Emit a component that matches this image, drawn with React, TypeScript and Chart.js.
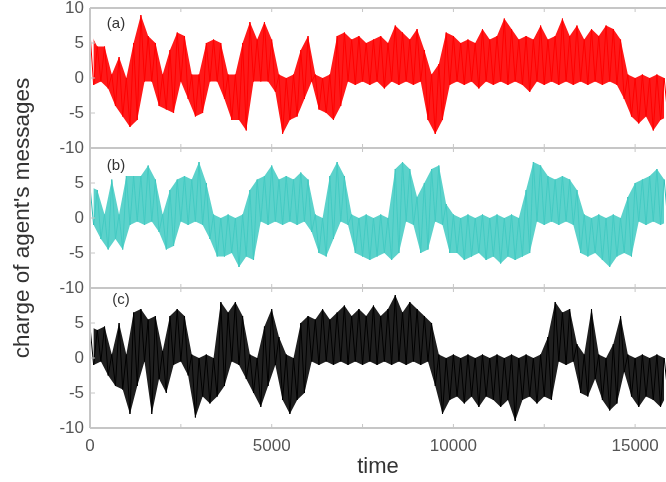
import React, { useEffect, useRef } from "react";
import { Chart, registerables } from "chart.js";

Chart.register(...registerables);

// bin start times (each bin spans 200 time units)
const binTimes = [
  0, 200, 400, 600, 800, 1000, 1200, 1400, 1600, 1800,
  2000, 2200, 2400, 2600, 2800, 3000, 3200, 3400, 3600, 3800,
  4000, 4200, 4400, 4600, 4800, 5000, 5200, 5400, 5600, 5800,
  6000, 6200, 6400, 6600, 6800, 7000, 7200, 7400, 7600, 7800,
  8000, 8200, 8400, 8600, 8800, 9000, 9200, 9400, 9600, 9800,
  10000, 10200, 10400, 10600, 10800, 11000, 11200, 11400, 11600, 11800,
  12000, 12200, 12400, 12600, 12800, 13000, 13200, 13400, 13600, 13800,
  14000, 14200, 14400, 14600, 14800, 15000, 15200, 15400, 15600, 15800,
];

// panel (a): max / min charge in each bin
const aHi = [
  6.5, 4.5, 4.5, 0.5, 3, 0, 5, 9, 6, 5,
  0.5, 4, 6.5, 6, 0.5, 0.5, 5, 5.5, 5, 0.5,
  0.5, 5, 8, 5.5, 8, 5.5, 0.5, 0, 0.5, 4,
  6, 0.5, 0, 0.5, 6, 6.5, 5.5, 6, 5, 5.5,
  6, 5, 7.5, 6.5, 5.5, 7, 4, 0.5, 2, 6.5,
  6, 5, 5.5, 5, 7, 5.5, 6, 8.5, 7, 5.5,
  6, 5.5, 7.5, 5.5, 6, 8.5, 6, 7.5, 5.5, 7,
  6, 7.5, 7, 5.5, 0.5, 0, 0.5, 0, 0.5, 0,
];
const aLo = [
  -1, -0.5, -1.5, -4, -5.5, -7, -6, -0.5, -0.5, -4,
  -4.5, -5, -0.5, -3, -5.5, -5, -0.5, -0.5, -3, -6,
  -6, -7.5, -0.5, -0.5, -0.5, -2, -8, -6, -5.5, -3,
  -0.5, -4.5, -5, -6, -4, -0.5, -1, -0.5, -1, -0.5,
  -1.5, -0.5, -1, -0.5, -1, -0.5, -6, -8, -6, -1,
  -0.5, -1, -0.5, -1.5, -0.5, -1, -0.5, -1, -0.5, -1,
  -2, -0.5, -1, -0.5, -1, -0.5, -1, -0.5, -1, -0.5,
  -1, -0.5, -1, -3, -5.5, -6.5, -5.5, -7.5, -6, -5.5,
];

// panel (b)
const bHi = [
  4.5, 4, 0.5, 5.5, 0.5, 6, 6, 6, 7.5, 5.5,
  0.5, 4, 5.5, 6, 5.5, 8, 5, 0.5, 0, 0.5,
  0, 0.5, 4, 5.5, 6, 7.5, 5.5, 6, 5.5, 6.5,
  5.5, 0.5, 0, 6, 8, 6, 0.5, 0, 0.5, 0,
  0.5, 0, 7, 8, 7, 3, 5, 7, 7.5, 2,
  0.5, 0, 0.5, 0, 0.5, 0, 0.5, 0, 0.5, 0,
  4, 8, 7.5, 6, 5.5, 6, 5.5, 4, 0.5, 0,
  0.5, 0, 0.5, 0, 3, 5, 5.5, 6, 7, 5.5,
];
const bLo = [
  -1, -3, -4.5, -3, -4.5, -1, -0.5, -1, -0.5, -2,
  -4.5, -4, -0.5, -1, -0.5, -1, -3, -5.5, -5.5, -5,
  -7, -5.5, -6, -0.5, -1, -0.5, -1, -0.5, -1, -0.5,
  -2, -5, -5.5, -3, -0.5, -1, -5, -5.5, -6, -5.5,
  -5, -6, -5, -0.5, -1, -5, -4.5, -0.5, -1, -5,
  -5, -6, -5.5, -5, -6, -5.5, -6.5, -5.5, -6, -5.5,
  -5, -0.5, -1, -0.5, -1, -0.5, -1, -5, -5.5, -5,
  -6, -7, -5.5, -5, -5.5, -0.5, -1, -0.5, -1, -0.5,
];

// panel (c)
const cHi = [
  4.5, 4, 4.5, 0.5, 5, 0.5, 6.5, 7, 5.5, 6,
  1, 6, 7, 6, 0.5, 0, 0.5, 0, 8, 6.5,
  8, 6, 0.5, 0, 4.5, 7, 3, 0.5, 0, 5,
  6, 5.5, 7, 5.5, 6.5, 7.5, 6, 7, 6, 7.5,
  6, 7, 9, 6.5, 8, 7, 6, 5, 0.5, 0,
  0.5, 0, 0.5, 0, 0.5, 0, 0.5, 0, 0.5, 0,
  0.5, 0, 0.5, 3, 8, 6.5, 7, 2, 0.5, 7,
  0.5, 0, 2, 6, 0.5, 0, 0.5, 0, 0.5, 0,
];
const cLo = [
  -1, -0.5, -2.5, -4, -4.5, -8, -4, -0.5, -8, -3,
  -5, -1, -0.5, -2.5, -8.5, -5.5, -6.5, -5.5, -4, -0.5,
  -1, -3, -5, -7, -4, -1, -6, -8, -6, -5,
  -0.5, -1, -0.5, -1, -0.5, -1, -0.5, -1, -0.5, -1,
  -0.5, -1, -0.5, -1, -0.5, -1, -0.5, -4, -8, -6,
  -5.5, -6.5, -5.5, -7, -5.5, -6, -7, -6, -9, -6,
  -5.5, -6.5, -5.5, -6, -0.5, -1, -0.5, -5, -5.5, -3,
  -6, -7.5, -6.5, -2, -5.5, -7, -5.5, -6, -7, -5,
];

const xTickValues = [0, 5000, 10000, 15000];
const xMinorTicks = [0, 2500, 5000, 7500, 10000, 12500, 15000];
const yTickValues = [-10, -5, 0, 5, 10];
const panelLabels = ["(a)", "(b)", "(c)"];

const FONT = "'Liberation Sans', Arial, Helvetica, sans-serif";
const HALF_BIN = 100;

const PANELS = [
  { axis: "ya", hi: aHi, lo: aLo, line: "#ff0000", fill: "rgba(255,0,0,0.9)", label: panelLabels[0], lx: 26, ly: 16 },
  { axis: "yb", hi: bHi, lo: bLo, line: "#33c0b8", fill: "rgba(70,204,196,0.88)", label: panelLabels[1], lx: 26, ly: 18 },
  { axis: "yc", hi: cHi, lo: cLo, line: "#000000", fill: "rgba(0,0,0,0.88)", label: panelLabels[2], lx: 31, ly: 12 },
];

const softPlugin = {
  id: "softData",
  beforeDatasetsDraw(chart: any) {
    chart.ctx.save();
    chart.ctx.filter = "blur(0.6px)";
  },
  afterDatasetsDraw(chart: any) {
    chart.ctx.restore();
  },
};

const framePlugin = {
  id: "panelFrame",
  afterDatasetsDraw(chart: any) {
    const { ctx, chartArea } = chart;
    const xs = chart.scales.x;
    ctx.save();
    ctx.filter = "none";
    ctx.strokeStyle = "#c6c6c6";
    PANELS.forEach((p) => {
      const s = chart.scales[p.axis];
      ctx.lineWidth = 2;
      ctx.beginPath();
      ctx.moveTo(chartArea.left, s.top);
      ctx.lineTo(chartArea.right, s.top);
      ctx.moveTo(chartArea.left, s.bottom);
      ctx.lineTo(chartArea.right, s.bottom);
      ctx.stroke();
      // inward ticks
      ctx.lineWidth = 1;
      ctx.beginPath();
      xMinorTicks.forEach((v) => {
        const px = xs.getPixelForValue(v);
        ctx.moveTo(px, s.top);
        ctx.lineTo(px, s.top + 4);
        ctx.moveTo(px, s.bottom);
        ctx.lineTo(px, s.bottom - 4);
      });
      yTickValues.forEach((v) => {
        const py = s.getPixelForValue(v);
        ctx.moveTo(chartArea.left, py);
        ctx.lineTo(chartArea.left + 5, py);
      });
      ctx.stroke();
    });
    ctx.lineWidth = 2;
    ctx.beginPath();
    ctx.moveTo(chartArea.left, chartArea.top);
    ctx.lineTo(chartArea.left, chartArea.bottom);
    ctx.stroke();
    ctx.fillStyle = "#333";
    ctx.font = `15px ${FONT}`;
    ctx.textAlign = "center";
    ctx.textBaseline = "middle";
    PANELS.forEach((p) => {
      const s = chart.scales[p.axis];
      ctx.fillText(p.label, chartArea.left + p.lx, s.top + p.ly);
    });
    ctx.restore();
  },
};

function yAxis(showTop: boolean, withTitle: boolean) {
  return {
    type: "linear",
    position: "left",
    stack: "panels",
    stackWeight: 1,
    min: -10,
    max: 10,
    afterFit: (s: any) => {
      s.width = 90;
      s.paddingTop = 0;
      s.paddingBottom = 0;
    },
    afterBuildTicks: (s: any) => {
      s.ticks = yTickValues.map((v) => ({ value: v }));
    },
    ticks: {
      color: "#555",
      padding: 6,
      autoSkip: false,
      font: { size: 17, family: FONT },
      callback: (v: any) => (!showTop && v === 10 ? "" : String(v)),
    },
    grid: { display: false, drawTicks: false },
    border: { display: false },
    title: {
      display: withTitle,
      text: "charge of agent's messages",
      color: "#333",
      font: { size: 22.5, family: FONT },
      padding: { top: 9, bottom: 0 },
    },
  };
}

export default function App() {
  const ref = useRef<HTMLCanvasElement>(null);
  useEffect(() => {
    const canvas = ref.current;
    if (!canvas) return;
    const datasets: any[] = [];
    PANELS.forEach((p) => {
      datasets.push({
        type: "line",
        data: binTimes.map((t, i) => ({ x: t, y: p.hi[i] })),
        yAxisID: p.axis,
        borderWidth: 0,
        borderColor: "rgba(0,0,0,0)",
        pointRadius: 0,
        tension: 0,
        fill: "+1",
        backgroundColor: p.fill,
      });
      datasets.push({
        type: "line",
        data: binTimes.map((t, i) => ({ x: t + HALF_BIN, y: p.lo[i] })),
        yAxisID: p.axis,
        borderWidth: 0,
        borderColor: "rgba(0,0,0,0)",
        pointRadius: 0,
        tension: 0,
        fill: false,
      });
      datasets.push({
        type: "line",
        data: binTimes.flatMap((t, i) => [
          { x: t, y: p.hi[i] },
          { x: t + HALF_BIN, y: p.lo[i] },
        ]),
        yAxisID: p.axis,
        borderWidth: 1,
        borderColor: p.line,
        pointRadius: 0,
        tension: 0,
        fill: false,
      });
    });

    const chart = new Chart(canvas, {
      type: "line",
      data: { datasets },
      plugins: [softPlugin, framePlugin],
      options: {
        responsive: false,
        maintainAspectRatio: false,
        animation: false,
        layout: { padding: { top: 8, left: 0, right: 0, bottom: 0 } },
        plugins: { legend: { display: false }, tooltip: { enabled: false } },
        scales: {
          x: {
            type: "linear",
            position: "bottom",
            min: 0,
            max: 15850,
            afterFit: (s: any) => {
              s.height = 54;
              s.paddingLeft = 0;
              s.paddingRight = 0;
            },
            afterBuildTicks: (s: any) => {
              s.ticks = xTickValues.map((v) => ({ value: v }));
            },
            ticks: {
              color: "#555",
              padding: 8,
              maxRotation: 0,
              autoSkip: false,
              font: { size: 17, family: FONT },
              callback: (v: any) => String(v),
            },
            grid: { display: false, drawTicks: false },
            border: { display: false },
            title: {
              display: true,
              text: "time",
              color: "#333",
              font: { size: 22, family: FONT },
              padding: { top: 0, bottom: 2 },
            },
          },
          yc: yAxis(false, false),
          yb: yAxis(false, true),
          ya: yAxis(true, false),
        },
      } as any,
    });
    return () => chart.destroy();
  }, []);

  return (
    <div style={{ position: "fixed", left: 0, top: 0, width: 666, height: 482, background: "#fff" }}>
      <canvas ref={ref} width={666} height={482} style={{ width: 666, height: 482 }} />
    </div>
  );
}
